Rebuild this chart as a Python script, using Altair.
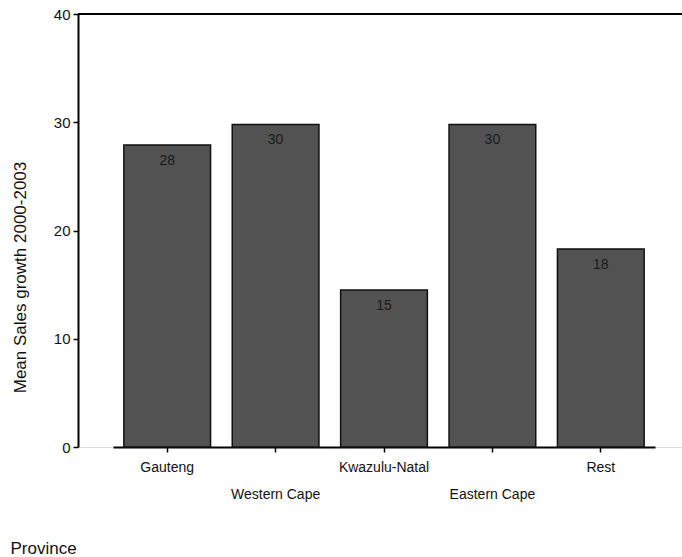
import altair as alt
import pandas as pd

# Mean sales growth by province, 2000-2003
provinces = ["Gauteng", "Western Cape", "Kwazulu-Natal", "Eastern Cape", "Rest"]
growth = [27.9, 29.8, 14.5, 29.8, 18.3]
labels = ["28", "30", "15", "30", "18"]
second_row = ["Western Cape", "Eastern Cape"]

df = pd.DataFrame({"province": provinces, "growth": growth, "label": labels})

FONT = "Liberation Sans"

x_enc = alt.X(
    "province:N",
    sort=provinces,
    scale=alt.Scale(range=[35, 577], paddingInner=0.2, paddingOuter=0.1),
    axis=alt.Axis(
        title="Province",
        titleFont=FONT,
        titleFontSize=17,
        titleFontWeight="normal",
        titleColor="#111",
        titleAnchor="start",
        titleAlign="left",
        titleBaseline="middle",
        titleX=-68,
        titleY=101,
        labelFont=FONT,
        labelFontSize=14,
        labelColor="#111",
        labelAngle=0,
        labelPadding=8,
        labelLineHeight=27,
        labelExpr="indexof(" + str(second_row) + ", datum.value) >= 0 ? ['', datum.value] : datum.value",
        domainColor="black",
        domainWidth=2,
        tickColor="black",
        tickSize=5,
        tickWidth=1.5,
        grid=False,
    ),
)

y_enc = alt.Y(
    "growth:Q",
    scale=alt.Scale(domain=[0, 40], nice=False),
    axis=alt.Axis(
        title="Mean Sales growth 2000-2003",
        titleFont=FONT,
        titleFontSize=17,
        titleFontWeight="normal",
        titleColor="#111",
        titleX=-58,
        titleY=263,
        titleBaseline="middle",
        values=[0, 10, 20, 30, 40],
        labelFont=FONT,
        labelFontSize=15,
        labelColor="#111",
        labelPadding=3,
        domainColor="black",
        domainWidth=2,
        tickColor="black",
        tickSize=5,
        tickWidth=1.5,
        grid=False,
    ),
)

bars = alt.Chart(df).mark_bar(
    color="#525252", stroke="#111", strokeWidth=1.5
).encode(x=x_enc, y=y_enc)

text = alt.Chart(df).mark_text(
    font=FONT, fontSize=14, color="#1a1a1a", baseline="middle", dy=16
).encode(x=alt.X("province:N", sort=provinces), y="growth:Q", text="label:N")

top_line = alt.Chart(pd.DataFrame({"top": [40]})).mark_rule(
    color="black", strokeWidth=2
).encode(y="top:Q")

chart = (
    alt.layer(bars, text, top_line)
    .properties(
        width=604,
        height=433,
        autosize=alt.AutoSizeParams(type="none"),
        padding={"left": 78, "top": 14, "right": 0, "bottom": 110},
    )
    .configure_view(stroke=None)
    .configure(background="white")
)

chart.save("out.html", embed_options={"renderer": "svg", "actions": False})
